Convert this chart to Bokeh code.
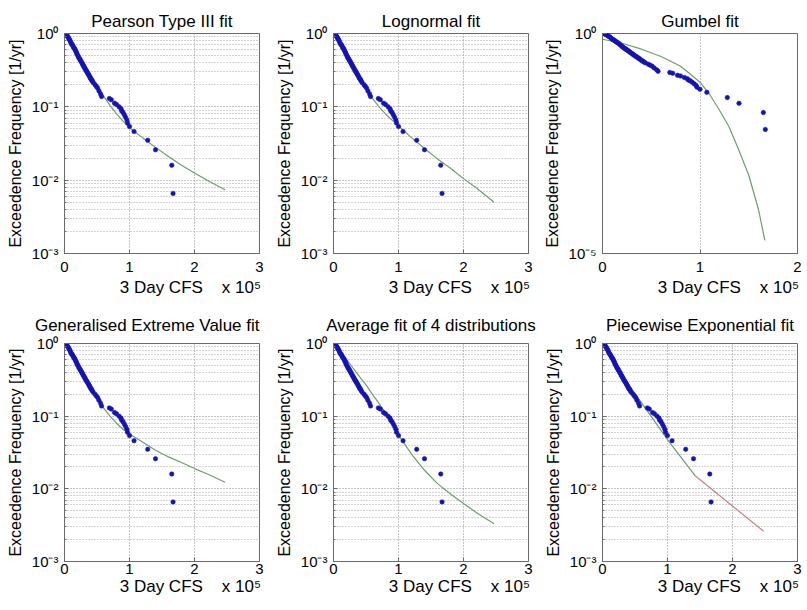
from bokeh.plotting import figure
from bokeh.layouts import gridplot
from bokeh.models import Range1d, FixedTicker, CustomJSTickFormatter
from bokeh.embed import file_html
from bokeh.resources import INLINE

# ---------------- data ----------------
flow_cfs = [1000, 2000, 3500, 4500, 5500, 6500, 7500, 8500, 9500, 10500,
            11500, 12500, 13500, 14500, 15500, 16500, 17500, 18500, 19500, 20500,
            21500, 22500, 23500, 24500, 25500, 26500, 27500, 28500, 29500, 30500,
            31500, 32500, 33500, 34500, 35500, 36500, 37500, 38500, 39500, 40500,
            41500, 42500, 44000, 47000, 49000, 51000, 53000, 55500, 57000,
            69000, 72000, 77000, 80000, 84000, 87000, 88000, 90000, 92000, 94000,
            96000, 97000, 100000, 107000, 128000, 140000, 165000, 167000]
exceed_freq = [1.00, 0.98, 0.95, 0.92, 0.89, 0.86, 0.83, 0.80, 0.76, 0.73,
               0.71, 0.69, 0.66, 0.64, 0.62, 0.60, 0.57, 0.55, 0.52, 0.50,
               0.48, 0.46, 0.45, 0.43, 0.42, 0.40, 0.39, 0.37, 0.36, 0.345,
               0.335, 0.32, 0.31, 0.30, 0.29, 0.28, 0.27, 0.26, 0.25, 0.24,
               0.235, 0.225, 0.215, 0.20, 0.19, 0.18, 0.165, 0.15, 0.138,
               0.130, 0.125, 0.112, 0.108, 0.100, 0.094, 0.088, 0.084, 0.078, 0.072,
               0.066, 0.060, 0.054, 0.046, 0.035, 0.026, 0.016, 0.0066]

fit_x = [0, 10000, 20000, 30000, 40000, 50000, 60000, 70000, 80000, 90000,
         100000, 120000, 140000, 160000, 180000, 200000, 220000, 247000]
pearson_fit = [1.0, 0.74, 0.54, 0.39, 0.28, 0.20, 0.14, 0.105, 0.080, 0.064,
               0.052, 0.038, 0.028, 0.021, 0.016, 0.0125, 0.0099, 0.0074]
lognormal_fit = [1.0, 0.72, 0.50, 0.35, 0.25, 0.18, 0.13, 0.10, 0.080, 0.066,
                 0.055, 0.038, 0.027, 0.0195, 0.0145, 0.0105, 0.0078, 0.0050]
gev_fit = [1.0, 0.72, 0.50, 0.35, 0.25, 0.18, 0.13, 0.10, 0.080, 0.066,
           0.057, 0.044, 0.034, 0.0275, 0.023, 0.019, 0.016, 0.0123]
average_fit = [1.0, 0.80, 0.61, 0.46, 0.35, 0.27, 0.20, 0.15, 0.11, 0.080,
               0.055, 0.030, 0.018, 0.0118, 0.0085, 0.0063, 0.0047, 0.0033]

gumbel_x = [0, 20000, 40000, 60000, 70000, 80000, 90000, 100000, 110000,
            120000, 130000, 140000, 150000, 160000, 166500]
gumbel_fit = [0.74, 0.60, 0.44, 0.30, 0.235, 0.18, 0.12, 0.078, 0.041,
              0.018, 0.0074, 0.0022, 0.0006, 0.0001, 0.00002]

piece1_x = [0, 40500, 102000, 143000]
piece1_y = [1.0, 0.27, 0.045, 0.015]
piece2_x = [143000, 248000]
piece2_y = [0.015, 0.0026]

titles = ["Pearson Type III fit", "Lognormal fit", "Gumbel fit",
          "Generalised Extreme Value fit", "Average fit of 4 distributions",
          "Piecewise Exponential fit"]
x_label = "3 Day CFS"
x_exponent = "x 10\u2075"
y_label = "Exceedence Frequency [1/yr]"

# ---------------- styling ----------------
FONT = "Liberation Sans"
PT_COLOR = "#1414b4"
FIT_COLOR = "#6f9c6f"
TAIL_COLOR = "#c48282"
FRAME_W = 195
FRAME_H = [220, 218]
RIGHT = [10, 10, 5]
TOP = [33, 40]
BOTTOM = [50, 46]
NB = "\u00a0"

sup_js = """
const m = {"0":"\u2070","1":"\u00b9","2":"\u00b2","3":"\u00b3","4":"\u2074",
           "5":"\u2075","6":"\u2076","7":"\u2077","8":"\u2078","9":"\u2079","-":"\u207b"};
const e = Math.round(Math.log10(tick));
return "10" + String(e).split("").map(c => m[c]).join("");
"""


def make_panel(title, col, row, x_max, x_ticks, y_min, y_ticks, y_minor, y_grid):
    fh = FRAME_H[row]
    p = figure(frame_width=FRAME_W, frame_height=fh,
               x_range=Range1d(0, x_max), y_range=Range1d(y_min, 1.0),
               y_axis_type="log", output_backend="svg", toolbar_location=None,
               min_border_left=64, min_border_right=RIGHT[col],
               min_border_top=TOP[row], min_border_bottom=BOTTOM[row])
    p.background_fill_color = "white"
    p.border_fill_color = "white"
    p.outline_line_color = "#6a6a6a"
    p.outline_line_width = 1

    p.title.text = title
    p.title.text_font = FONT
    p.title.text_font_size = "17px"
    p.title.text_font_style = "normal"
    p.title.text_color = "black"
    p.title.align = "right" if (row == 1 and col == 0) else "center"
    p.title.standoff = 5 if row == 0 else 18

    xt = FixedTicker(ticks=x_ticks)
    yt = FixedTicker(ticks=y_ticks, minor_ticks=y_minor)
    p.xaxis.ticker = xt
    p.yaxis.ticker = yt
    p.xgrid.ticker = xt
    p.ygrid.ticker = yt
    p.xaxis.formatter = CustomJSTickFormatter(code="return (tick/1e5).toFixed(0);")
    p.yaxis.formatter = CustomJSTickFormatter(code=sup_js)

    for ax in (p.xaxis, p.yaxis):
        ax.axis_line_color = "#6a6a6a"
        ax.major_tick_line_color = "#6a6a6a"
        ax.minor_tick_line_color = "#6a6a6a"
        ax.major_tick_in = 4
        ax.major_tick_out = 0
        ax.minor_tick_in = 2
        ax.minor_tick_out = 0
        ax.major_label_text_font = FONT
        ax.major_label_text_font_size = "15px"
        ax.major_label_text_color = "black"
        ax.axis_label_text_font = FONT
        ax.axis_label_text_font_style = "normal"
        ax.axis_label_text_color = "black"
    p.xaxis.major_label_standoff = 8 if row == 0 else 2
    p.xaxis.axis_label_standoff = 3 if row == 0 else 0
    p.yaxis.major_label_standoff = 6
    p.yaxis.axis_label_standoff = 5
    # axis title centred under the frame, MATLAB exponent note at its right end
    p.xaxis.axis_label = NB * 12 + x_label + NB * 4 + x_exponent
    p.xaxis.axis_label_text_font_size = "17px"
    p.yaxis.axis_label = y_label
    p.yaxis.axis_label_text_font_size = "16px"

    p.xgrid.grid_line_color = "#8a8a8a"
    p.xgrid.grid_line_dash = "1 2"
    p.xgrid.grid_line_width = 1
    if y_grid:
        p.ygrid.grid_line_color = "#8a8a8a"
        p.ygrid.grid_line_dash = "1 2"
        p.ygrid.minor_grid_line_color = "#a8a8a8"
        p.ygrid.minor_grid_line_dash = "1 2"
    else:
        p.ygrid.grid_line_color = None
    return p


x3 = [0, 100000, 200000, 300000]
y3 = [0.001, 0.01, 0.1, 1.0]
y3_minor = [m * d for d in (0.001, 0.01, 0.1) for m in range(2, 10)]

panels = []
fits = [pearson_fit, lognormal_fit, None, gev_fit, average_fit, None]
for i, t in enumerate(titles):
    row, col = divmod(i, 3)
    if i == 2:
        p = make_panel(t, col, row, 200000, [0, 100000, 200000], 1e-5,
                       [1e-5, 1.0], [], False)
        p.line(gumbel_x, gumbel_fit, line_color=FIT_COLOR, line_width=1.2)
    else:
        p = make_panel(t, col, row, 300000, x3, 0.001, y3, y3_minor, True)
        if i == 5:
            p.line(piece1_x, piece1_y, line_color=FIT_COLOR, line_width=1.2)
            p.line(piece2_x, piece2_y, line_color=TAIL_COLOR, line_width=1.2)
        else:
            p.line(fit_x, fits[i], line_color=FIT_COLOR, line_width=1.2)
    p.scatter(flow_cfs, exceed_freq, size=4.5, fill_color=PT_COLOR,
              line_color=PT_COLOR, line_width=0.5)
    panels.append(p)

grid = gridplot([panels[0:3], panels[3:6]], toolbar_location=None)

open("out.html", "w").write(file_html(grid, INLINE, title="Exceedance frequency fits"))
